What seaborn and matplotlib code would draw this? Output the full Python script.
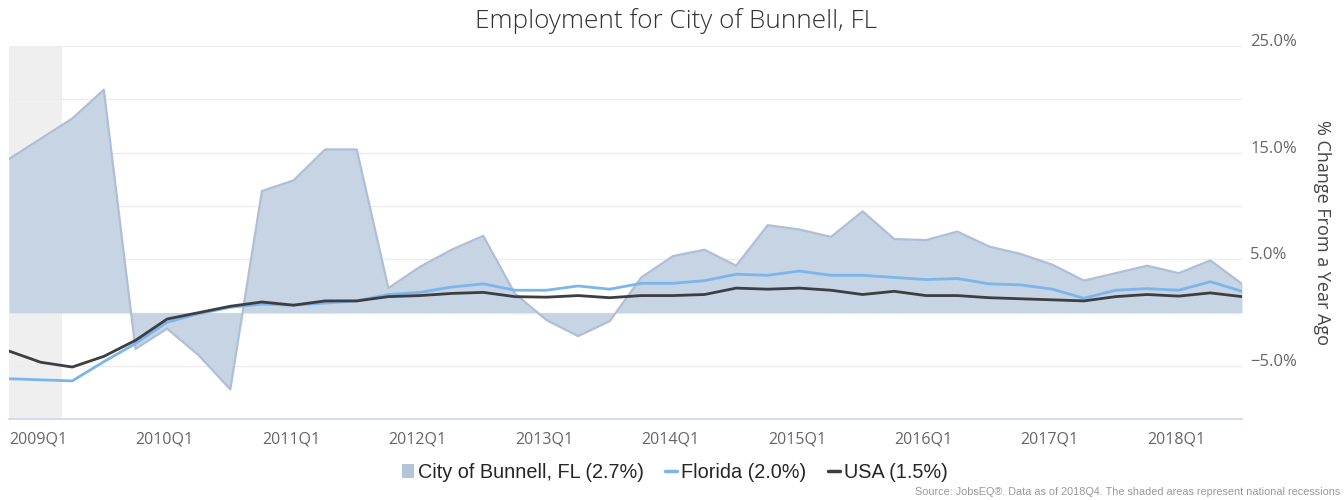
import numpy as np
import pandas as pd
import seaborn as sns
import matplotlib.pyplot as plt
from matplotlib.patches import Patch
from matplotlib.lines import Line2D
from matplotlib.transforms import ScaledTranslation

# dados: variacao % anual do emprego, 2009Q1 .. 2018Q4
quarters = [f"{y}Q{q}" for y in range(2009, 2019) for q in range(1, 5)]

bunnell = [14.4, 16.3, 18.2, 20.9, -3.4, -1.5, -4.0, -7.2, 11.4, 12.4,
           15.3, 15.3, 2.3, 4.3, 5.9, 7.2, 1.8, -0.7, -2.2, -0.8,
           3.3, 5.3, 5.9, 4.4, 8.2, 7.8, 7.1, 9.5, 6.9, 6.8,
           7.6, 6.2, 5.5, 4.5, 3.0, 3.7, 4.4, 3.7, 4.9, 2.7]
florida = [-6.2, -6.3, -6.4, -4.6, -2.9, -0.9, -0.1, 0.5, 0.8, 0.7,
           0.9, 1.1, 1.7, 1.9, 2.4, 2.7, 2.1, 2.1, 2.5, 2.2,
           2.75, 2.75, 3.0, 3.6, 3.5, 3.9, 3.5, 3.5, 3.3, 3.1,
           3.2, 2.7, 2.6, 2.2, 1.35, 2.1, 2.25, 2.1, 2.9, 2.0]
usa = [-3.6, -4.65, -5.1, -4.1, -2.6, -0.6, 0.0, 0.6, 1.0, 0.7,
       1.1, 1.1, 1.5, 1.6, 1.8, 1.9, 1.5, 1.45, 1.6, 1.4,
       1.6, 1.6, 1.7, 2.3, 2.2, 2.3, 2.1, 1.7, 2.0, 1.6,
       1.6, 1.4, 1.3, 1.2, 1.1, 1.5, 1.7, 1.55, 1.85, 1.5]

legend_labels = ["City of Bunnell, FL (2.7%)", "Florida (2.0%)", "USA (1.5%)"]
recession = (0, 1.67)  # recessao nacional (ate jun/2009)

df = pd.DataFrame({"q": np.arange(len(quarters)), "bunnell": bunnell,
                   "florida": florida, "usa": usa})

sns.set_style("white")
plt.rcParams['font.family'] = ['Open Sans', 'DejaVu Sans']

c_area, c_edge = "#c6d4e3", "#aebfd6"
c_fl, c_us = "#7cb5ec", "#3d3d42"

fig = plt.figure(figsize=(13.44, 5), dpi=100)
ax = fig.add_axes([9 / 1344, 80.7 / 500, 1233 / 1344, 373.3 / 500])

ax.axvspan(*recession, color="#efefef", lw=0, zorder=0)
for g in range(-5, 30, 5):
    ax.axhline(g, color="#ececec", lw=1, zorder=0.5)

ax.fill_between(df["q"], 0, df["bunnell"], color=c_area, lw=0, zorder=1)
sns.lineplot(data=df, x="q", y="bunnell", color=c_edge, lw=1.6, ax=ax, zorder=2)
sns.lineplot(data=df, x="q", y="florida", color=c_fl, lw=2, ax=ax, zorder=3)
sns.lineplot(data=df, x="q", y="usa", color=c_us, lw=2, ax=ax, zorder=4)

ax.set_xlim(0, len(quarters) - 1)
ax.set_ylim(-10, 25)
ax.set_xlabel("")
ax.set_ylabel("")

# eixo x: um rotulo por ano
xt = list(range(0, len(quarters), 4))
ax.set_xticks(xt)
ax.set_xticklabels([quarters[i] for i in xt], ha="left", color="#666666",
                   fontsize=11.5)
ax.tick_params(axis="x", length=6, width=1, color="#ccd6eb", pad=3, direction="out")
for s in ["top", "left", "right"]:
    ax.spines[s].set_visible(False)
ax.spines["bottom"].set_color("#ccd6eb")
ax.spines["bottom"].set_linewidth(1.2)

# eixo y a direita, rotulos acima das linhas de grade
ax.yaxis.tick_right()
ax.set_yticks([-5, 5, 15, 25])
ax.set_yticklabels(["\u22125.0%", "5.0%", "15.0%", "25.0%"], color="#666666",
                   fontsize=12)
ax.tick_params(axis="y", length=0, pad=6)
for lab in ax.get_yticklabels():
    lab.set_transform(lab.get_transform() + ScaledTranslation(0, 0.06, fig.dpi_scale_trans))

fig.text(1322 / 1344, 1 - 232 / 500, "% Change From a Year Ago", rotation=270,
         ha="center", va="center", fontsize=13, color="#444444")

fig.text(676 / 1344, 1 - 21 / 500, "Employment for City of Bunnell, FL",
         ha="center", va="center", fontsize=18.8, color="#333333", fontweight="light")

handles = [Patch(facecolor="#b3c5db", edgecolor="none"),
           Line2D([], [], color=c_fl, lw=2.5),
           Line2D([], [], color=c_us, lw=2.5)]
fig.legend(handles, legend_labels, loc="center", bbox_to_anchor=(675 / 1344, 1 - 472 / 500),
           ncol=3, frameon=False, handlelength=0.6, handletextpad=0.2, columnspacing=1.1,
           prop={"family": ["Liberation Sans", "DejaVu Sans"], "size": 14.3})

fig.text(1340 / 1344, 1 - 492 / 500,
         "Source: JobsEQ\u00ae. Data as of 2018Q4. The shaded areas represent national recessions",
         ha="right", va="center", fontsize=7.8, color="#999999",
         family=["Liberation Sans", "DejaVu Sans"])

fig.savefig("out.png", dpi=100)
